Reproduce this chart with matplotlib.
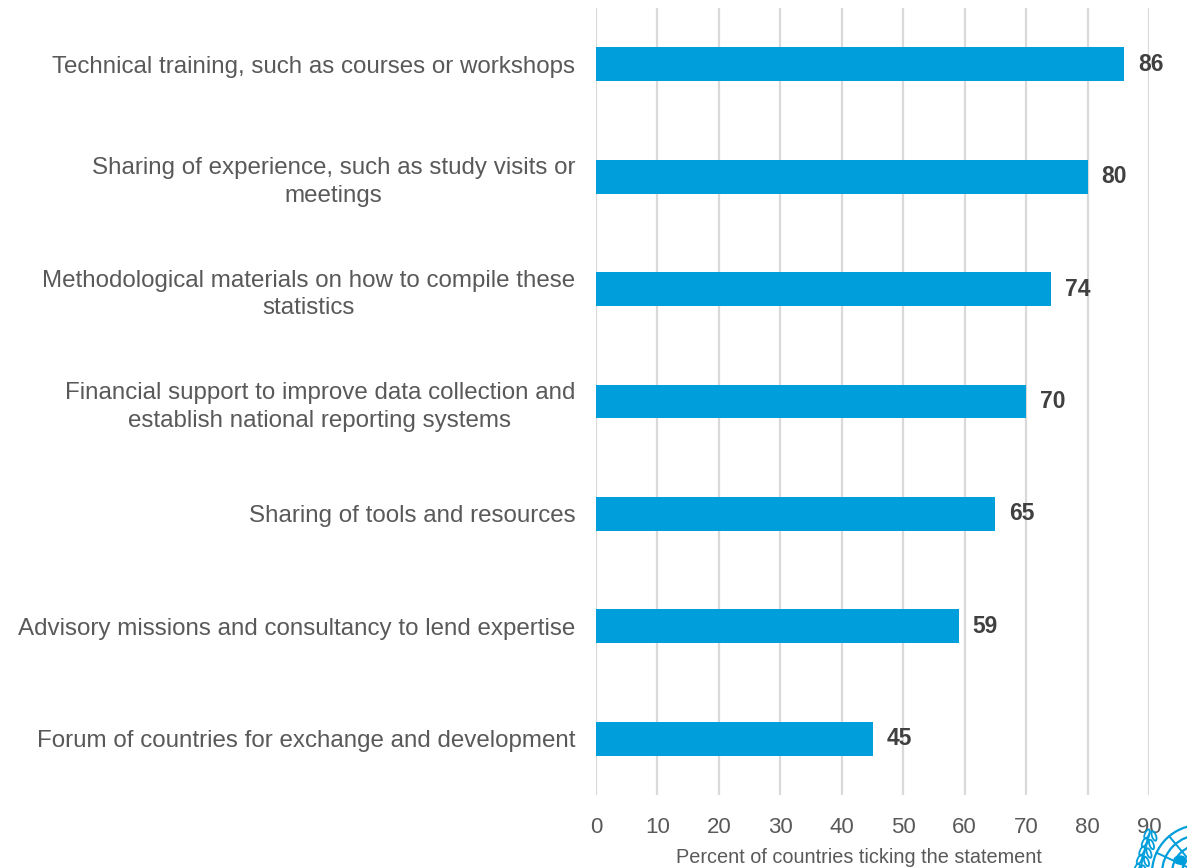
import numpy as np
import matplotlib
matplotlib.use("Agg")
import matplotlib.pyplot as plt
from matplotlib.patches import Circle, Ellipse

categories = [
    "Technical training, such as courses or workshops",
    "Sharing of experience, such as study visits or\nmeetings",
    "Methodological materials on how to compile these\nstatistics",
    "Financial support to improve data collection and\nestablish national reporting systems",
    "Sharing of tools and resources",
    "Advisory missions and consultancy to lend expertise",
    "Forum of countries for exchange and development",
]
values = [86, 80, 74, 70, 65, 59, 45]
xticks = [0, 10, 20, 30, 40, 50, 60, 70, 80, 90]

BLUE = "#009EDB"
GREY = "#595959"

plt.rcParams['font.family'] = ['Liberation Sans', 'DejaVu Sans']

W, H = 1187, 868
fig = plt.figure(figsize=(W / 100, H / 100), dpi=100)
ax = fig.add_axes([596 / W, 1 - 795 / H, (1149 - 596) / W, (795 - 8) / H])

ypos = list(range(len(categories)))[::-1]
ax.barh(ypos, values, height=0.30, color=BLUE, zorder=3)

for y, v in zip(ypos, values):
    ax.annotate(str(v), xy=(v, y), xytext=(10, 0), textcoords="offset points",
                ha="left", va="center", fontsize=16.5, fontweight="bold",
                color="#404040", zorder=4)

ax.set_xlim(0, 90)
ax.set_ylim(-0.5, len(categories) - 0.5)
ax.set_xticks(xticks)
ax.set_xticklabels([str(t) for t in xticks])
ax.set_yticks(ypos)
ax.set_yticklabels(categories, fontsize=17.4, color=GREY, ha="right",
                   multialignment="center", linespacing=1.33)
ax.tick_params(axis="y", length=0, pad=15)
ax.tick_params(axis="x", length=0, pad=16, labelsize=16, labelcolor=GREY)

ax.grid(axis="x", color="#d9d9d9", linewidth=1.6, zorder=0)
ax.grid(axis="y", visible=False)
for s in ax.spines.values():
    s.set_visible(False)

fig.text(859 / W, (H - 863) / H, "Percent of countries ticking the statement",
         fontsize=14.3, color=GREY, ha="center", va="baseline")

# emblem in the lower right corner (globe with laurel branch)
em = fig.add_axes([1118 / W, 0, (W - 1118) / W, 70 / H])
em.set_xlim(1118, W)
em.set_ylim(H, H - 70)
em.axis("off")
cx, cy = 1200, 873
for r in (48, 38, 28, 18):
    em.add_patch(Circle((cx, cy), r, fill=False, ec=BLUE, lw=1.6))
for ang in np.deg2rad([105, 130, 155, 178]):
    em.plot([cx + 8 * np.cos(ang), cx + 48 * np.cos(ang)],
            [cy - 8 * np.sin(ang), cy - 48 * np.sin(ang)], color=BLUE, lw=1.4)
em.add_patch(Ellipse((1180, 860), 12, 8, color=BLUE))
for t in np.linspace(0, 1, 5):
    bx = 1140 + 10 * t
    by = 868 - 34 * t
    em.add_patch(Ellipse((bx - 3, by), 4, 10, angle=25, fill=False, ec=BLUE, lw=1.3))
    em.add_patch(Ellipse((bx + 4, by + 2), 4, 10, angle=-20, fill=False, ec=BLUE, lw=1.3))
em.plot([1140, 1150], [870, 832], color=BLUE, lw=1.2)

fig.savefig("out.png", dpi=100, facecolor="white")
